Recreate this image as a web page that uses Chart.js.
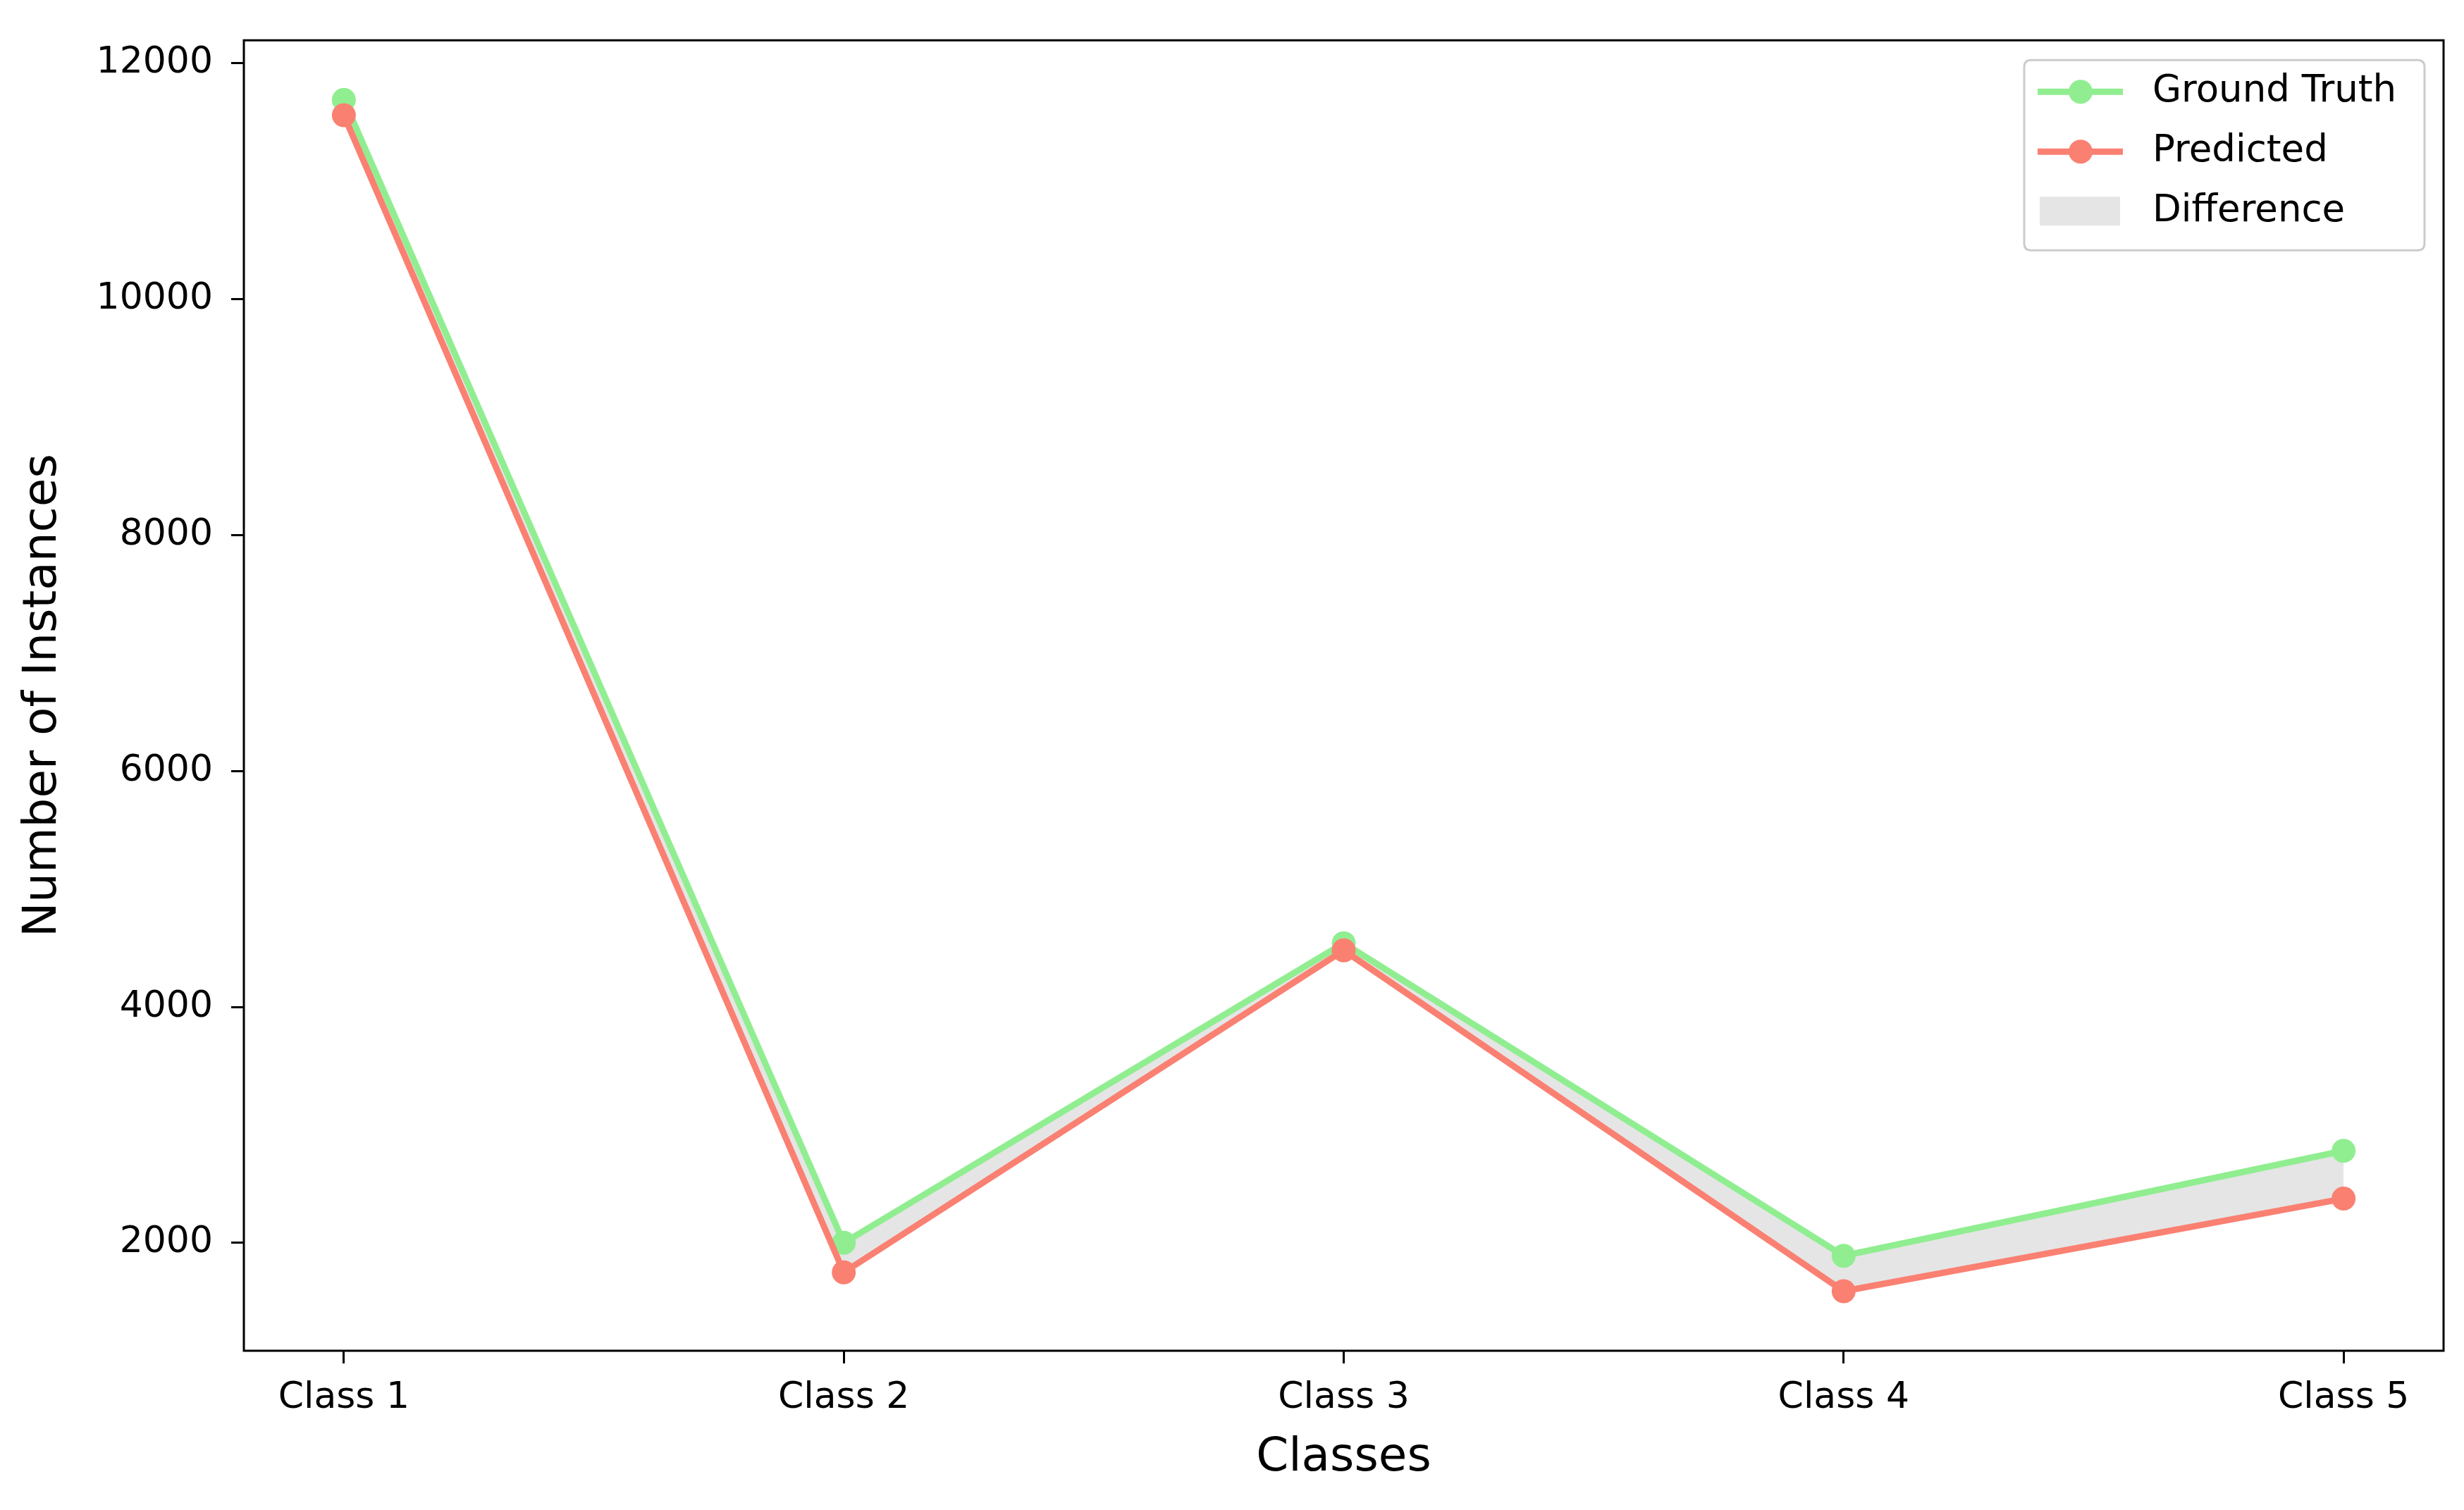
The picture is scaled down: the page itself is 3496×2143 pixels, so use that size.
<!DOCTYPE html>
<html>
<head>
<meta charset="utf-8">
<script src="https://cdn.jsdelivr.net/npm/chart.js@4.4.0/dist/chart.umd.min.js"></script>
<style>
html, body { margin: 0; padding: 0; background: #fff; overflow: hidden; }
canvas { display: block; }
</style>
</head>
<body>
<canvas id="chart" width="3496" height="2143"></canvas>
<script>
// values
const classes = ['Class 1', 'Class 2', 'Class 3', 'Class 4', 'Class 5'];
const groundTruth = [11690, 2000, 4540, 1890, 2780];
const predicted = [11560, 1750, 4480, 1590, 2375];
const yTicks = [2000, 4000, 6000, 8000, 10000, 12000];

const GREEN = '#90ee90';
const SALMON = '#fa8072';
const DIFF_FILL = 'rgba(211, 211, 211, 0.6)';
const FONT = 'DejaVu Sans';

// matplotlib-like 5% axis margins
const allValues = groundTruth.concat(predicted);
const lo = Math.min(...allValues);
const hi = Math.max(...allValues);
const yPad = (hi - lo) * 0.05;
const xPad = (classes.length - 1) * 0.05;

function toPoints(values) {
    return values.map((v, i) => ({ x: i, y: v }));
}

// black frame around the plot area (all four spines)
const frame = {
    id: 'frame',
    afterDatasetsDraw(chart) {
        const { ctx, chartArea: a } = chart;
        ctx.save();
        ctx.strokeStyle = '#000';
        ctx.lineWidth = 3;
        ctx.strokeRect(a.left, a.top, a.right - a.left, a.bottom - a.top);
        ctx.restore();
    }
};

// legend in the upper right corner, inside the axes
const insideLegend = {
    id: 'insideLegend',
    afterDraw(chart) {
        const { ctx, chartArea: a } = chart;
        const w = 568, h = 270;
        const x0 = a.right - 27 - w;
        const y0 = a.top + 28;
        const r = 10;

        ctx.save();
        ctx.beginPath();
        ctx.moveTo(x0 + r, y0);
        ctx.lineTo(x0 + w - r, y0);
        ctx.quadraticCurveTo(x0 + w, y0, x0 + w, y0 + r);
        ctx.lineTo(x0 + w, y0 + h - r);
        ctx.quadraticCurveTo(x0 + w, y0 + h, x0 + w - r, y0 + h);
        ctx.lineTo(x0 + r, y0 + h);
        ctx.quadraticCurveTo(x0, y0 + h, x0, y0 + h - r);
        ctx.lineTo(x0, y0 + r);
        ctx.quadraticCurveTo(x0, y0, x0 + r, y0);
        ctx.closePath();
        ctx.fillStyle = 'rgba(255,255,255,0.8)';
        ctx.fill();
        ctx.strokeStyle = '#cccccc';
        ctx.lineWidth = 3;
        ctx.stroke();

        const rows = [y0 + 45, y0 + 130, y0 + 215];
        const items = chart.data.datasets.map(ds => ({ kind: 'line', text: ds.label, color: ds.borderColor, width: ds.borderWidth, radius: ds.pointRadius }));
        items.push({ kind: 'patch', text: 'Difference', color: DIFF_FILL });

        ctx.font = '53px "' + FONT + '"';
        ctx.textBaseline = 'middle';
        ctx.textAlign = 'left';
        items.forEach((it, i) => {
            const y = rows[i];
            if (it.kind === 'line') {
                ctx.strokeStyle = it.color;
                ctx.lineWidth = it.width;
                ctx.beginPath();
                ctx.moveTo(x0 + 19, y);
                ctx.lineTo(x0 + 140, y);
                ctx.stroke();
                ctx.fillStyle = it.color;
                ctx.beginPath();
                ctx.arc(x0 + 80, y, it.radius, 0, Math.PI * 2);
                ctx.fill();
            } else {
                ctx.fillStyle = it.color;
                ctx.fillRect(x0 + 22, y - 21, 114, 41);
            }
            ctx.fillStyle = '#000';
            ctx.fillText(it.text, x0 + 182, y);
        });
        ctx.restore();
    }
};

new Chart(document.getElementById('chart'), {
    type: 'line',
    data: {
        datasets: [{
            label: 'Ground Truth',
            data: toPoints(groundTruth),
            borderColor: GREEN,
            backgroundColor: DIFF_FILL,
            pointBackgroundColor: GREEN,
            pointBorderWidth: 0,
            pointRadius: 17,
            borderWidth: 9,
            tension: 0,
            fill: { target: 1, above: DIFF_FILL, below: DIFF_FILL },
            order: 2
        }, {
            label: 'Predicted',
            data: toPoints(predicted),
            borderColor: SALMON,
            backgroundColor: SALMON,
            pointBackgroundColor: SALMON,
            pointBorderWidth: 0,
            pointRadius: 17,
            borderWidth: 9,
            tension: 0,
            fill: false,
            order: 1
        }]
    },
    options: {
        responsive: false,
        animation: false,
        devicePixelRatio: 1,
        layout: { padding: { top: 55, right: 29, left: 0, bottom: 0 } },
        plugins: {
            legend: { display: false },
            tooltip: { enabled: false }
        },
        scales: {
            x: {
                type: 'linear',
                min: -xPad,
                max: classes.length - 1 + xPad,
                afterBuildTicks: s => { s.ticks = classes.map((c, i) => ({ value: i })); },
                ticks: {
                    callback: v => classes[v],
                    font: { family: FONT, size: 52 },
                    color: '#000',
                    padding: 18,
                    autoSkip: false,
                    maxRotation: 0
                },
                grid: { drawOnChartArea: false, drawTicks: true, tickLength: 18, tickWidth: 3, tickColor: '#000' },
                border: { display: false },
                title: {
                    display: true,
                    text: 'Classes',
                    font: { family: FONT, size: 66 },
                    color: '#000',
                    padding: { top: 0, bottom: 34 }
                },
                afterFit: s => { s.height = 226; }
            },
            y: {
                min: lo - yPad,
                max: hi + yPad,
                afterBuildTicks: s => { s.ticks = yTicks.map(v => ({ value: v })); },
                ticks: {
                    callback: v => String(v),
                    font: { family: FONT, size: 52 },
                    color: '#000',
                    padding: 26
                },
                grid: { drawOnChartArea: false, drawTicks: true, tickLength: 18, tickWidth: 3, tickColor: '#000' },
                border: { display: false },
                title: {
                    display: true,
                    text: 'Number of Instances',
                    font: { family: FONT, size: 66 },
                    color: '#000',
                    padding: { top: 22, bottom: 0 }
                },
                afterFit: s => { s.width = 346; }
            }
        }
    },
    plugins: [frame, insideLegend]
});
</script>
</body>
</html>
